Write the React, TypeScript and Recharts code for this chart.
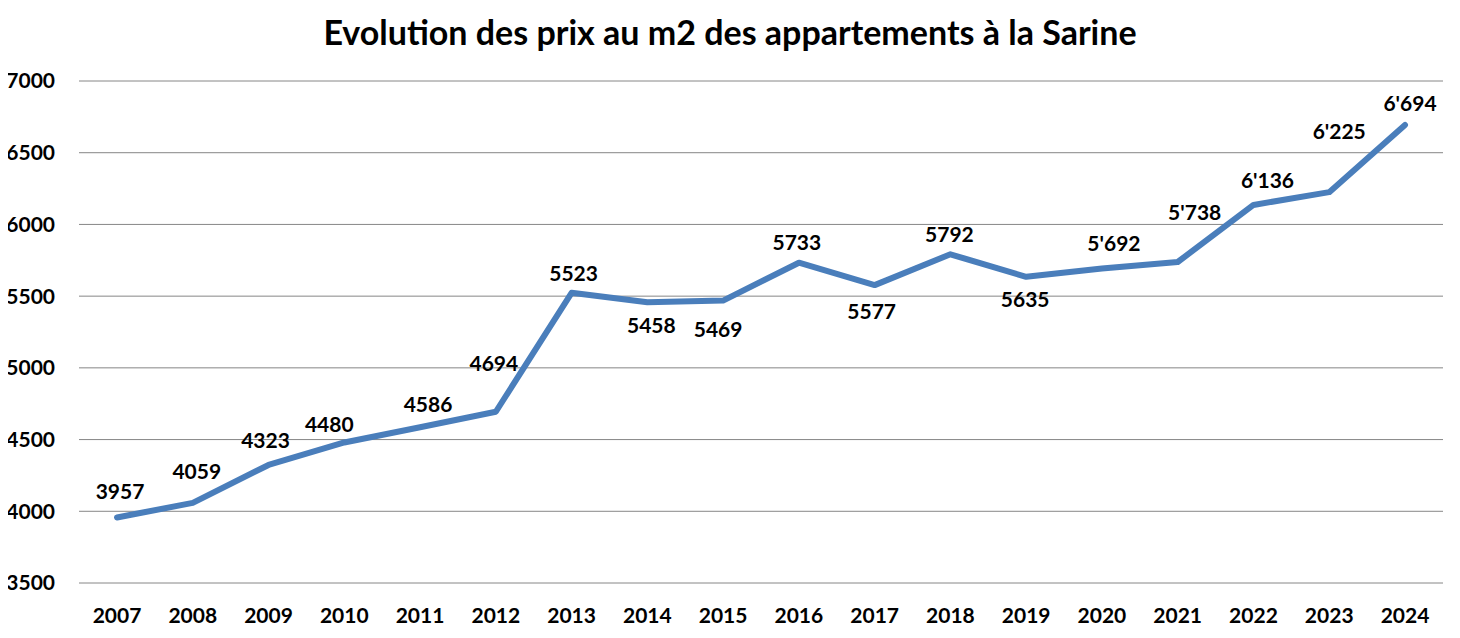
import React from "react";
import { LineChart, Line, XAxis, YAxis, CartesianGrid, LabelList } from "recharts";

const years = ["2007","2008","2009","2010","2011","2012","2013","2014","2015","2016","2017","2018","2019","2020","2021","2022","2023","2024"];
const prices = [3957, 4059, 4323, 4480, 4586, 4694, 5523, 5458, 5469, 5733, 5577, 5792, 5635, 5692, 5738, 6136, 6225, 6694];
const labelTexts = ["3957","4059","4323","4480","4586","4694","5523","5458","5469","5733","5577","5792","5635","5'692","5'738","6'136","6'225","6'694"];
const yTicks = [3500, 4000, 4500, 5000, 5500, 6000, 6500, 7000];
const title = "Evolution des prix au m2 des appartements à la Sarine";

// label placement relative to each point [dx, dy]
const labelOffsets: [number, number][] = [
  [3, -26], [4, -31], [-3, -24.5], [-15, -18.5], [8, -23], [-2, -48],
  [2, -19], [4, 23], [-5, 29], [-2, -20], [-3, 26], [-1, -20],
  [-1, 23], [12, -25], [17, -50], [14, -24], [10, -61], [5, -21.5],
];

const data = years.map((y, i) => ({ year: y, price: prices[i] }));

const FONT = "Lato, 'Open Sans', sans-serif";
const FS = 21;

const renderLabel = (props: any) => {
  const { x, y, index } = props;
  const [dx, dy] = labelOffsets[index];
  return (
    <text
      x={x + dx}
      y={y + dy + 0.36 * FS}
      textAnchor="middle"
      fontFamily={FONT}
      fontWeight="bold"
      fontSize={FS}
      fill="#000"
    >
      {labelTexts[index]}
    </text>
  );
};

export default function App() {
  return (
    <div style={{ position: "relative", width: 1452, height: 630, marginLeft: -8, background: "#fff" }}>
      <div
        style={{
          position: "absolute",
          top: 7,
          left: 8,
          width: 1444,
          textAlign: "center",
          fontFamily: FONT,
          fontWeight: "bold",
          fontSize: 34,
          lineHeight: "34px",
          color: "#000",
        }}
      >
        {title}
      </div>
      <LineChart
        width={1452}
        height={630}
        data={data}
        margin={{ top: 73, right: 9, bottom: 5, left: 8 }}
      >
        <CartesianGrid horizontal vertical={false} stroke="#868686" strokeWidth={1} />
        <XAxis
          dataKey="year"
          axisLine={false}
          tickLine={false}
          tickSize={0}
          tickMargin={25}
          height={50}
          interval={0}
          padding={{ left: 38, right: 38 }}
          tick={{ fill: "#000", fontFamily: FONT, fontWeight: "bold", fontSize: FS }}
        />
        <YAxis
          type="number"
          domain={[3500, 7000]}
          ticks={yTicks}
          axisLine={false}
          tickLine={false}
          tickSize={0}
          tickMargin={24}
          width={71}
          interval={0}
          tick={{ fill: "#000", fontFamily: FONT, fontWeight: "bold", fontSize: FS }}
        />
        <Line
          type="linear"
          dataKey="price"
          stroke="#4A7EBB"
          strokeWidth={6}
          strokeLinecap="round"
          strokeLinejoin="round"
          dot={false}
          activeDot={false}
          isAnimationActive={false}
        >
          <LabelList dataKey="price" content={renderLabel} />
        </Line>
      </LineChart>
    </div>
  );
}
